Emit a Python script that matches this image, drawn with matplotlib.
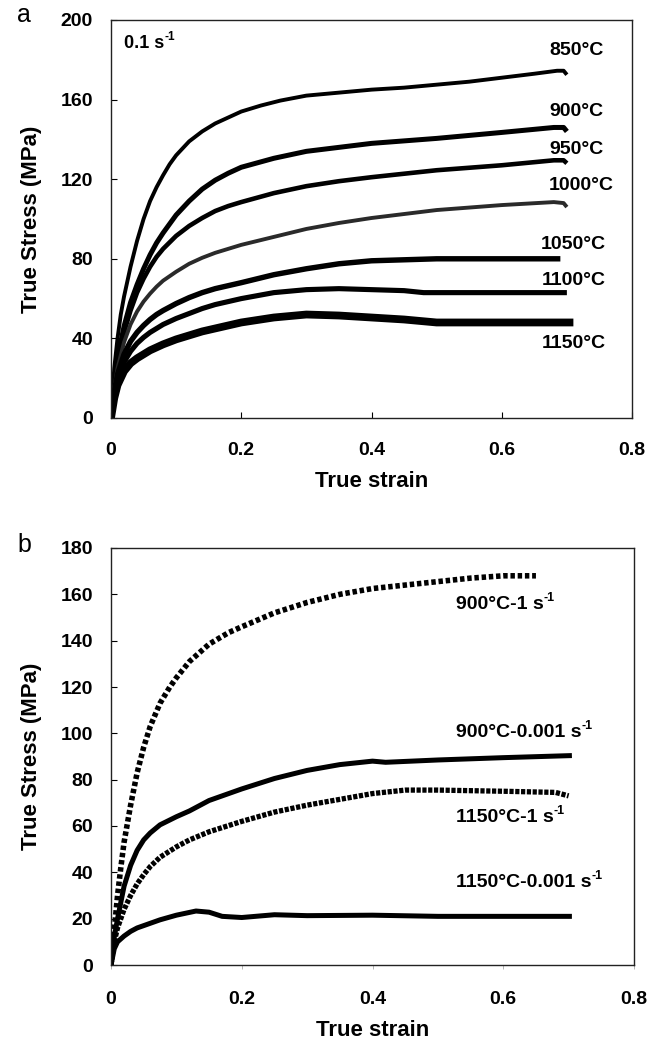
import matplotlib
matplotlib.use("Agg")
import matplotlib.pyplot as plt

plt.rcParams['font.family'] = ['Liberation Sans', 'DejaVu Sans']

# ---------------- Panel a data (0.1 s^-1) ----------------
strain_850 = [0, 0.005, 0.01, 0.015, 0.02, 0.03, 0.04, 0.05, 0.06, 0.07, 0.08, 0.09, 0.1, 0.12, 0.14, 0.16, 0.18, 0.2,
              0.23, 0.26, 0.3, 0.35, 0.4, 0.45, 0.5, 0.55, 0.6, 0.65, 0.685, 0.695, 0.70]
stress_850 = [0, 25, 40, 52, 61, 76, 89, 100, 109, 116, 122, 127.5, 132, 139, 144, 148, 151, 154,
              157, 159.5, 162, 163.5, 165, 166, 167.5, 169, 171, 173, 174.5, 174.5, 172.5]

strain_900 = [0, 0.005, 0.01, 0.02, 0.03, 0.04, 0.05, 0.06, 0.07, 0.08, 0.1, 0.12, 0.14, 0.16, 0.18, 0.2,
              0.25, 0.3, 0.35, 0.4, 0.5, 0.6, 0.68, 0.695, 0.70]
stress_900 = [0, 18, 30, 46, 58, 67, 75, 82, 88, 93, 102, 109, 115, 119.5, 123, 126,
              130.5, 134, 136, 138, 140.5, 143.5, 146, 146, 144]

strain_950 = [0, 0.005, 0.01, 0.02, 0.03, 0.04, 0.05, 0.06, 0.07, 0.08, 0.1, 0.12, 0.14, 0.16, 0.18, 0.2,
              0.25, 0.3, 0.35, 0.4, 0.5, 0.6, 0.68, 0.695, 0.70]
stress_950 = [0, 17, 28, 43, 54, 63, 70, 76, 81, 85, 91.5, 96.5, 100.5, 104, 106.5, 108.5,
              113, 116.5, 119, 121, 124.5, 127, 129.5, 129.5, 128]

strain_1000 = [0, 0.005, 0.01, 0.02, 0.03, 0.04, 0.05, 0.06, 0.07, 0.08, 0.1, 0.12, 0.14, 0.16, 0.18, 0.2,
               0.25, 0.3, 0.35, 0.4, 0.5, 0.6, 0.68, 0.695, 0.70]
stress_1000 = [0, 15, 25, 38, 47, 53.5, 58.5, 62.5, 66, 69, 73.5, 77.5, 80.5, 83, 85, 87,
               91, 95, 98, 100.5, 104.5, 107, 108.5, 108, 106]

strain_1050 = [0, 0.005, 0.01, 0.02, 0.03, 0.04, 0.05, 0.06, 0.07, 0.08, 0.1, 0.12, 0.14, 0.16, 0.18, 0.2,
               0.25, 0.3, 0.35, 0.4, 0.5, 0.6, 0.69]
stress_1050 = [0, 13, 22, 32, 38.5, 43, 46.5, 49.5, 52, 54, 57.5, 60.5, 63, 65, 66.5, 68,
               72, 75, 77.5, 79, 80, 80, 80]

strain_1100 = [0, 0.005, 0.01, 0.02, 0.03, 0.04, 0.05, 0.06, 0.07, 0.08, 0.1, 0.12, 0.14, 0.16, 0.18, 0.2,
               0.25, 0.3, 0.35, 0.4, 0.45, 0.48, 0.5, 0.6, 0.70]
stress_1100 = [0, 12, 19.5, 28, 33.5, 37.5, 40.5, 43, 45, 47, 50, 52.5, 55, 57, 58.5, 60,
               63, 64.5, 65, 64.5, 64, 63, 63, 63, 63]

strain_1150 = [0, 0.005, 0.01, 0.02, 0.03, 0.04, 0.05, 0.06, 0.07, 0.08, 0.1, 0.12, 0.14, 0.16, 0.18, 0.2,
               0.25, 0.3, 0.35, 0.4, 0.45, 0.5, 0.6, 0.71]
stress_1150 = [0, 10, 16.5, 23.5, 27.5, 30, 32, 34, 35.5, 37, 39.5, 41.5, 43.5, 45, 46.5, 48,
               50.5, 52, 51.5, 50.5, 49.5, 48, 48, 48]

labels_a = ['850°C', '900°C', '950°C', '1000°C', '1050°C', '1100°C', '1150°C']
label_a_x = [0.715, 0.715, 0.715, 0.722, 0.71, 0.71, 0.71]
label_a_y = [184.5, 154, 135, 117, 87, 69, 37.5]

# ---------------- Panel b data ----------------
strain_900_1 = [0, 0.005, 0.01, 0.015, 0.02, 0.03, 0.04, 0.05, 0.06, 0.075, 0.09, 0.1, 0.12, 0.15, 0.18, 0.2,
                0.25, 0.3, 0.35, 0.4, 0.45, 0.5, 0.55, 0.6, 0.65]
stress_900_1 = [0, 15, 30, 42, 53, 69, 83, 94, 103, 113, 120, 124, 131, 138.5, 143.5, 146,
                152, 156.5, 160, 162.5, 164, 165.5, 167, 168, 168]

strain_900_0001 = [0, 0.005, 0.01, 0.02, 0.03, 0.04, 0.05, 0.06, 0.075, 0.1, 0.12, 0.15, 0.17, 0.2, 0.25, 0.3,
                   0.35, 0.4, 0.42, 0.5, 0.6, 0.705]
stress_900_0001 = [0, 12, 20, 34, 43, 49.5, 54, 57, 60.5, 64, 66.5, 71, 73, 76, 80.5, 84,
                   86.5, 88, 87.5, 88.5, 89.5, 90.4]

strain_1150_1 = [0, 0.005, 0.01, 0.02, 0.03, 0.04, 0.05, 0.06, 0.075, 0.1, 0.12, 0.15, 0.2, 0.25, 0.3, 0.35,
                 0.4, 0.45, 0.5, 0.6, 0.68, 0.70]
stress_1150_1 = [0, 10, 16, 24, 30, 35, 39, 42.5, 46.5, 51, 54, 57.5, 62, 66, 69, 71.5,
                 74, 75.5, 75.5, 75, 74.5, 73]

strain_1150_0001 = [0, 0.005, 0.01, 0.02, 0.03, 0.04, 0.05, 0.075, 0.1, 0.13, 0.15, 0.17, 0.2, 0.25, 0.3,
                    0.4, 0.5, 0.6, 0.705]
stress_1150_0001 = [0, 7, 10, 12.5, 14.5, 16, 17, 19.5, 21.5, 23.3, 22.8, 21, 20.5, 21.7, 21.3,
                    21.5, 21, 21, 21]

labels_b = ['900°C-1 s', '900°C-0.001 s', '1150°C-1 s', '1150°C-0.001 s']
label_b_x = [0.527, 0.527, 0.527, 0.527]
label_b_y = [155.5, 100.5, 63.5, 35.5]
unit_sup = '-1'

x_ticks = [0, 0.2, 0.4, 0.6, 0.8]
x_ticklabels = ['0', '0.2', '0.4', '0.6', '0.8']
y_ticks_a = [0, 40, 80, 120, 160, 200]
y_ticks_b = [0, 20, 40, 60, 80, 100, 120, 140, 160, 180]

W, H = 663, 1044
fig = plt.figure(figsize=(W / 100, H / 100), dpi=100)

def frac(left, top, right, bottom):
    return [left / W, 1 - bottom / H, (right - left) / W, (bottom - top) / H]

axa = fig.add_axes(frac(111, 20, 632, 418))
axb = fig.add_axes(frac(111, 548, 634, 965))

tick_fs = 14
lab_fs = 16
ann_fs = 14


def add_sup(ax, txt, size):
    ax.annotate(unit_sup, xy=(1, 1), xycoords=txt, xytext=(0.5, -1.5), textcoords='offset points',
                fontsize=size, fontweight='bold', ha='left', va='center')


# Panel a
series_a = [
    (strain_850, stress_850, 2.8, 'black'),
    (strain_900, stress_900, 3.6, 'black'),
    (strain_950, stress_950, 3.3, 'black'),
    (strain_1000, stress_1000, 2.8, '#2a2a2a'),
    (strain_1050, stress_1050, 3.9, 'black'),
    (strain_1100, stress_1100, 3.7, 'black'),
    (strain_1150, stress_1150, 5.6, 'black'),
]
for xs, ys, lw, c in series_a:
    axa.plot(xs, ys, color=c, lw=lw, solid_capstyle='butt', solid_joinstyle='round')

for t, x, y in zip(labels_a, label_a_x, label_a_y):
    axa.text(x, y, t, ha='center', va='center', fontsize=ann_fs, fontweight='bold')
ta = axa.text(0.02, 188, '0.1 s', ha='left', va='center', fontsize=13, fontweight='bold')
add_sup(axa, ta, 8.5)

axa.set_xlim(0, 0.8)
axa.set_ylim(0, 200)
axa.set_xticks(x_ticks)
axa.set_xticklabels(x_ticklabels)
axa.set_yticks(y_ticks_a)
axa.tick_params(axis='y', direction='in', length=4, width=0.8, labelsize=tick_fs, pad=13)
axa.tick_params(axis='x', direction='in', length=4, width=0.8, labelsize=tick_fs, pad=17)
for lbl in axa.get_xticklabels() + axa.get_yticklabels():
    lbl.set_fontweight('bold')
axa.set_xlabel('True strain', fontsize=lab_fs, fontweight='bold', labelpad=9)
axa.set_ylabel('True Stress (MPa)', fontsize=lab_fs, fontweight='bold', labelpad=13)
fig.text(17 / W, 1 - 15 / H, 'a', fontsize=18, ha='left', va='center')

# Panel b
axb.plot(strain_900_1, stress_900_1, color='black', lw=4.0, linestyle=(0, (0.8, 0.5)), dash_capstyle='butt')
axb.plot(strain_900_0001, stress_900_0001, color='black', lw=3.6, solid_capstyle='butt')
axb.plot(strain_1150_1, stress_1150_1, color='black', lw=3.8, linestyle=(0, (0.8, 0.3)), dash_capstyle='butt')
axb.plot(strain_1150_0001, stress_1150_0001, color='black', lw=3.6, solid_capstyle='butt')

for t, x, y in zip(labels_b, label_b_x, label_b_y):
    tb = axb.text(x, y, t, ha='left', va='center', fontsize=ann_fs, fontweight='bold')
    add_sup(axb, tb, 9)

axb.set_xlim(0, 0.8)
axb.set_ylim(0, 180)
axb.set_xticks(x_ticks)
axb.set_xticklabels(x_ticklabels)
axb.set_yticks(y_ticks_b)
axb.tick_params(axis='y', direction='in', length=4, width=0.8, labelsize=tick_fs, pad=13)
axb.tick_params(axis='x', direction='out', length=3, width=0.6, color='#aaaaaa', labelsize=tick_fs, pad=16)
for lbl in axb.get_xticklabels() + axb.get_yticklabels():
    lbl.set_fontweight('bold')
axb.set_xlabel('True strain', fontsize=lab_fs, fontweight='bold', labelpad=8)
axb.set_ylabel('True Stress (MPa)', fontsize=lab_fs, fontweight='bold', labelpad=13)
fig.text(17 / W, 1 - 545 / H, 'b', fontsize=18, ha='left', va='center')

for ax in (axa, axb):
    for s in ax.spines.values():
        s.set_linewidth(1.0)
        s.set_color('#222222')

fig.savefig('out.png', dpi=100)
